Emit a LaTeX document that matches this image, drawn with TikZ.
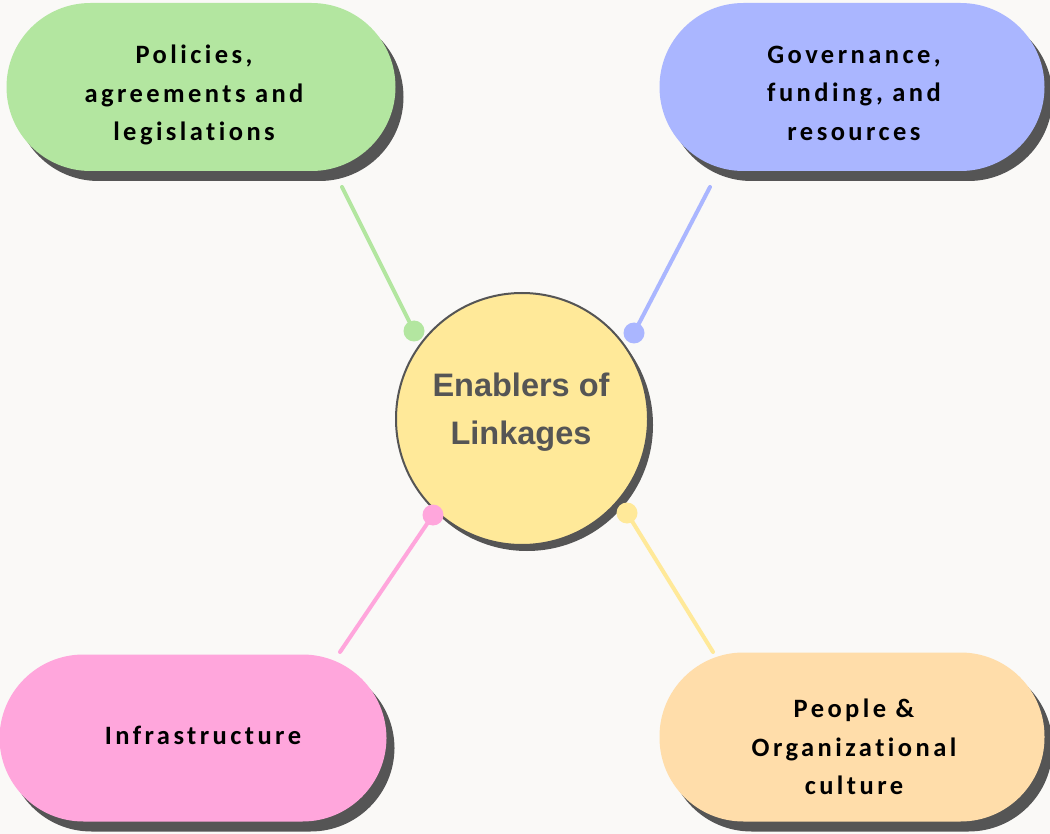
\documentclass[tikz,border=0pt]{standalone}
\usepackage{fontspec}
\setmainfont{Carlito}
\newfontfamily\pillfont[LetterSpace=13,Ligatures={NoCommon,NoRare}]{Carlito}
\newfontfamily\hubfont{Liberation Sans}
\usetikzlibrary{shadows}
\definecolor{bgc}{HTML}{FAF9F7}
\definecolor{cgreen}{HTML}{B3E6A0}
\definecolor{cblue}{HTML}{AAB6FF}
\definecolor{cpink}{HTML}{FFA6DC}
\definecolor{corange}{HTML}{FFDDAA}
\definecolor{cyellow}{HTML}{FFE999}
\definecolor{cshadow}{HTML}{555555}
\definecolor{ctext}{HTML}{555555}
\tikzset{
  pill/.style={rectangle, rounded corners=84pt, minimum width=386pt, minimum height=168pt,
    inner sep=0pt,
    drop shadow={shadow xshift=8pt, shadow yshift=-10pt, fill=cshadow, opacity=1}},
  pilltext/.style={inner sep=0pt, align=center, text=black,
    font={\pillfont\bfseries\fontsize{26.5}{38.5}\selectfont}},
  hub/.style={circle, draw=cshadow, line width=2pt, fill=cyellow, minimum size=252pt, inner sep=0pt,
    drop shadow={shadow xshift=5pt, shadow yshift=-6pt, fill=cshadow, opacity=1}},
  hubtext/.style={inner sep=0pt, align=center, text=ctext,
    font={\hubfont\bfseries\fontsize{32.5}{48}\selectfont}},
  link/.style={line width=4pt, line cap=round},
  knob/.style={circle, inner sep=0pt, minimum size=21pt},
}
\begin{document}
\begin{tikzpicture}[x=1pt, y=-1pt]
\fill[bgc] (0,0) rectangle (1050,834);
\useasboundingbox (0,0) rectangle (1050,834);

\node[pill, fill=cgreen, minimum width=389pt] (pol) at (201,87) {};
\node[pill, fill=cblue, minimum width=385pt] (gov) at (852,87) {};
\node[pill, fill=cpink, minimum width=387pt, minimum height=167pt] (inf) at (193,738) {};
\node[pill, fill=corange, minimum width=385pt, minimum height=169pt] (peo) at (852,737) {};

\node[pilltext] (polt) at (194,95) {Policies,\\agreements and\\legislations};
\node[pilltext] (govt) at (854,93) {Governance,\\funding, and\\resources};
\node[pilltext] (inft) at (203,735) {Infrastructure};
\node[pilltext] (peot) at (854,747) {People \&\\Organizational\\culture};

\node[hub] (hub) at (522,419) {};
\node[hubtext] (hubt) at (521,412) {Enablers of\\Linkages};

\coordinate (pe) at (342,187);
\coordinate (ge) at (710,187);
\coordinate (ie) at (340,652);
\coordinate (oe) at (713,652);

\node[knob, fill=cgreen] (kp) at (414,331) {};
\node[knob, fill=cblue] (kg) at (634,333) {};
\node[knob, fill=cpink] (ki) at (433,515) {};
\node[knob, fill=cyellow] (ko) at (627,513) {};

\draw[link, cgreen] (pe) -- (kp.center);
\draw[link, cblue] (ge) -- (kg.center);
\draw[link, cpink] (ie) -- (ki.center);
\draw[link, cyellow] (oe) -- (ko.center);
\end{tikzpicture}
\end{document}
